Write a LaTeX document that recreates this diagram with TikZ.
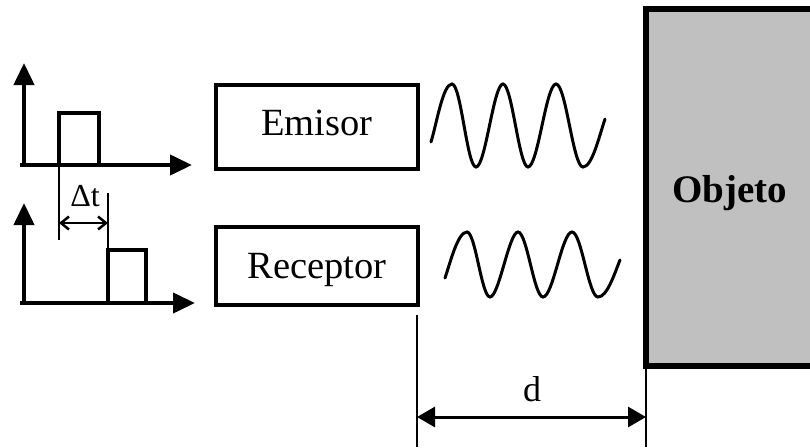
\documentclass[tikz,border=0pt]{standalone}
\usepackage{fontspec}
\setmainfont{Liberation Serif}
\usetikzlibrary{arrows.meta}
\definecolor{objgray}{RGB}{192,192,192}
\begin{document}
\begin{tikzpicture}[x=1pt,y=-1pt,
  box/.style={draw, line width=4pt, minimum width=202pt, inner sep=0pt},
  objbox/.style={draw, fill=objgray, line width=6pt, minimum width=168pt, minimum height=357pt, inner sep=0pt, outer sep=0pt},
  lbl/.style={anchor=base, inner sep=0pt, font=\fontsize{38.5}{40}\selectfont},
  axis/.style={line width=4pt, -{Triangle[length=22pt,width=20pt]}},
  pulse/.style={line width=4.5pt, line join=miter},
  thinline/.style={line width=2pt},
  wave/.style={line width=3pt, line cap=round},
  dim/.style={line width=3pt, {Triangle[length=18pt,width=20pt]}-{Triangle[length=18pt,width=20pt]}},
  smalldim/.style={line width=2.5pt, {Straight Barb[length=8pt,width=13pt]}-{Straight Barb[length=8pt,width=13pt]}}
]
\useasboundingbox (0,0) rectangle (810,447);
\clip (0,0) rectangle (810,447);

% object
\node[objbox] (obj) at (730,187.2) {};
\node[lbl, font=\fontsize{39}{40}\selectfont\bfseries] (objt) at (730,202) {Objeto};

% emitter / receiver boxes
\node[box, minimum height=84pt] (emi) at (317,126.85) {};
\node[lbl] (emit) at (317,135) {Emisor};
\node[box, minimum height=78.3pt] (rec) at (317,266.15) {};
\node[lbl] (rect) at (317,278.3) {Receptor};

% top pulse diagram
\coordinate (o1) at (24,165);
\draw[axis] (24,167) -- (24,63);
\draw[axis] (20,165) -- (192,165);
\draw[pulse] (20,165) -- (59,165) -- (59,113) -- (99,113) -- (99,165) -- (121,165);

% bottom pulse diagram
\coordinate (o2) at (24,303);
\draw[axis] (24,305) -- (24,203);
\draw[axis] (20,303) -- (195,303);
\draw[pulse] (73,303) -- (108,303) -- (108,250) -- (146,250) -- (146,303) -- (168,303);

% delta t
\draw[thinline] (59,165) -- (59,240);
\draw[thinline] (108,193) -- (108,250);
\coordinate (ta) at (59,223);
\coordinate (tb) at (108,223);
\draw[smalldim] (ta) -- (tb);
\node[lbl, font=\fontsize{32}{34}\selectfont] (dt) at (85,206) {Δt};

% waves
\draw[wave] (431,142) .. controls (437,122) and (443,84) .. (452,84)
  .. controls (461,84) and (467,167) .. (476,167)
  .. controls (485.5,167) and (493.5,84) .. (503,84)
  .. controls (512,84) and (519,167) .. (528,167)
  .. controls (538,167) and (546,84) .. (556,84)
  .. controls (566,84) and (573,167) .. (583,167)
  .. controls (592,167) and (599,137) .. (605,119);
\draw[wave] (445,278) .. controls (451,260) and (458,232) .. (467,232)
  .. controls (475.5,232) and (481.5,297) .. (490,297)
  .. controls (499,297) and (509,232) .. (518,232)
  .. controls (527,232) and (534,297) .. (543,297)
  .. controls (553,297) and (562,232) .. (572,232)
  .. controls (581.5,232) and (588.5,297) .. (598,297)
  .. controls (607,297) and (614,275) .. (620,260);

% distance d
\coordinate (dl) at (417,417);
\coordinate (dr) at (646,417);
\coordinate (dbot) at (646,447);
\draw[thinline] (417,315) -- (417,447);
\draw[thinline] (obj.south west) -- (dbot);
\draw[dim] (dl) -- (dr);
\node[lbl, font=\fontsize{36}{38}\selectfont] (dlab) at (532,401) {d};
\end{tikzpicture}
\end{document}
